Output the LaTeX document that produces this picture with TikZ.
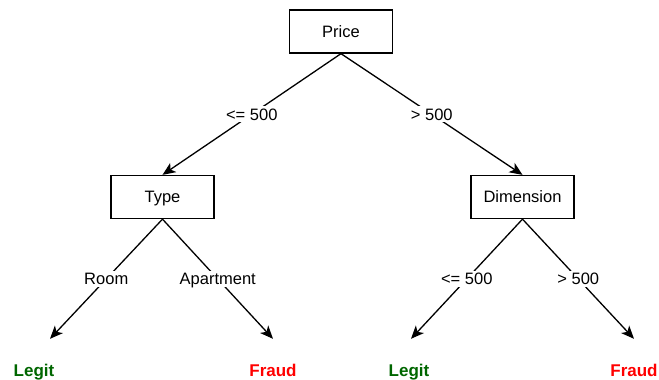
\documentclass[tikz,border=0pt]{standalone}
\usepackage{fontspec}
\setmainfont{Liberation Sans}
\usetikzlibrary{arrows.meta}
\definecolor{legitgreen}{RGB}{0,102,0}
\definecolor{fraudred}{RGB}{255,0,0}
\begin{document}
\begin{tikzpicture}[x=1pt,y=-1pt,
  every node/.style={font=\fontsize{16.5}{20}\selectfont},
  box/.style={draw=black, line width=1.3pt, rectangle, minimum width=103pt, minimum height=43pt, inner sep=0pt, text height=11.8pt, text depth=0pt},
  leaf/.style={font=\fontsize{17}{20}\selectfont\bfseries, inner sep=0pt, text height=12.2pt, text depth=0pt, outer ysep=25pt, anchor=base},
  arr/.style={line width=1.3pt, -{Stealth[length=13pt,width=11pt,inset=3.5pt]}},
  lbl/.style={fill=white, inner sep=2pt, text height=11.8pt, text depth=0pt}
]
\useasboundingbox (0,0) rectangle (659,380);
\node[box] (price) at (341,31.5) {Price};
\node[box] (type) at (162.5,197) {Type};
\node[box] (dim) at (522.5,197) {Dimension};
\node[leaf, text=legitgreen] (l1) at (34,376) {Legit};
\node[leaf, text=fraudred] (f1) at (273,376) {Fraud};
\node[leaf, text=legitgreen] (l2) at (409,376) {Legit};
\node[leaf, text=fraudred] (f2) at (634,376) {Fraud};
\draw[arr] (price.south) -- node[lbl] {<= 500} (type.north);
\draw[arr] (price.south) -- node[lbl] {> 500} (dim.north);
\draw[arr] (type.south) -- node[lbl] {Room} ([xshift=16pt]l1.north);
\draw[arr] (type.south) -- node[lbl] {Apartment} (f1.north);
\draw[arr] (dim.south) -- node[lbl] {<= 500} ([xshift=2pt]l2.north);
\draw[arr] (dim.south) -- node[lbl] {> 500} (f2.north);
\end{tikzpicture}
\end{document}
